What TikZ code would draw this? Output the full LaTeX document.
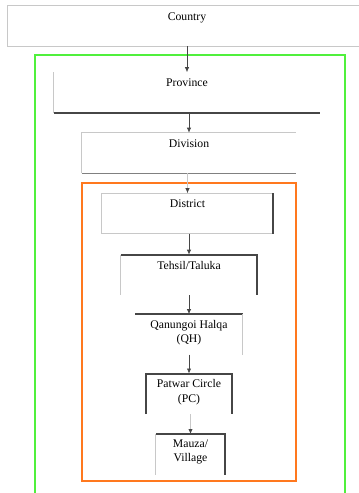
\documentclass[tikz,border=0pt]{standalone}
\usepackage{fontspec}
\setmainfont{Liberation Serif}
\usetikzlibrary{arrows.meta,positioning}
\definecolor{framegreen}{RGB}{80,240,60}
\definecolor{frameorange}{RGB}{255,120,30}
\definecolor{edgedark}{RGB}{70,70,70}
\definecolor{edgelight}{RGB}{200,200,200}

\begin{document}
\begin{tikzpicture}[
    x=0.03cm, y=-0.03cm,
    box/.style={rectangle, inner sep=0pt, minimum height=1.2cm},
    lbl/.style={inner sep=0pt, align=center, font=\normalsize},
    lite/.style={draw=edgelight, line width=0.8pt},
    dark/.style={draw=edgedark, line width=1.6pt},
    arrow/.style={-{Latex[length=1.5mm,width=1.3mm]}, draw=edgedark, line width=0.6pt},
    litearrow/.style={-{Latex[length=1.5mm,width=1.3mm,color=edgedark]}, draw=edgelight, line width=0.6pt},
    node distance=0.6cm
]
    \useasboundingbox (0,0) rectangle (359,493);

    % Frames
    \draw[framegreen, line width=1.2pt] (35,496) -- (35,55) -- (345,55) -- (345,496);
    \draw[frameorange, line width=1.2pt] (82,183) rectangle (296,481);

    % Boxes
    \node[box, minimum width=10.53cm] (cty) at (183.5,26) {};
    \node[box, minimum width=7.98cm, below=0.78cm of cty, xshift=0.105cm] (prov) {};
    \node[box, minimum width=6.42cm, below=of prov, xshift=0.06cm] (div) {};
    \node[box, minimum width=5.13cm, below=of div, xshift=-0.045cm] (dist) {};
    \node[box, minimum width=4.08cm, below=0.63cm of dist, xshift=0.045cm] (teh) {};
    \node[box, minimum width=3.21cm, below=0.57cm of teh] (qh) {};
    \node[box, minimum width=2.58cm, below=0.57cm of qh] (pc) {};
    \node[box, minimum width=2.07cm, below=of pc, xshift=0.045cm] (mv) {};

    % Box edges
    \draw[lite] (cty.north east) -- (cty.north west) -- (cty.south west) -- (cty.south east);
    \draw[lite] (prov.north west) -- (prov.south west);
    \draw[dark] (prov.south west) -- (prov.south east);
    \draw[lite] (div.south west) -- (div.north west) -- (div.north east);
    \draw[draw=gray, line width=1.1pt] (div.south west) -- (div.south east);
    \draw[lite] (dist.north east) -- (dist.north west) -- (dist.south west) -- (dist.south east);
    \draw[dark] (dist.north east) -- (dist.south east);
    \draw[lite] (teh.north west) -- (teh.south west);
    \draw[dark] (teh.north west) -- (teh.north east) -- (teh.south east);
    \draw[dark] (qh.north west) -- (qh.north east);
    \draw[lite] (qh.north east) -- (qh.south east);
    \draw[dark] (pc.south west) -- (pc.north west) -- (pc.north east) -- (pc.south east);
    \draw[lite] (mv.north west) -- (mv.south west);
    \draw[dark] (mv.north west) -- (mv.north east) -- (mv.south east);

    % Labels
    \node[lbl, below=0.2cm of cty.north, xshift=0.105cm] (ctyT) {Country};
    \node[lbl, below=0.18cm of prov.north] (provT) {Province};
    \node[lbl, below=0.2cm of div.north] (divT) {Division};
    \node[lbl, below=0.18cm of dist.north] (distT) {District};
    \node[lbl, below=0.18cm of teh.north] (tehT) {Tehsil/Taluka};
    \node[lbl, below=0.18cm of qh.north] (qhT) {Qanungoi Halqa\\(QH)};
    \node[lbl, below=0.18cm of pc.north] (pcT) {Patwar Circle\\(PC)};
    \node[lbl, below=0.16cm of mv.north] (mvT) {Mauza/\\Village};

    % Arrows
    \draw[arrow] (prov.north |- cty.south) -- (prov.north);
    \draw[arrow] (div.north |- prov.south) -- (div.north);
    \draw[litearrow] (dist.north |- div.south) -- (dist.north);
    \draw[arrow] (teh.north |- dist.south) -- (teh.north);
    \draw[arrow] (qh.north |- teh.south) -- (qh.north);
    \draw[arrow] (pc.north |- qh.south) -- (pc.north);
    \draw[litearrow] (mv.north |- pc.south) -- (mv.north);
\end{tikzpicture}
\end{document}
